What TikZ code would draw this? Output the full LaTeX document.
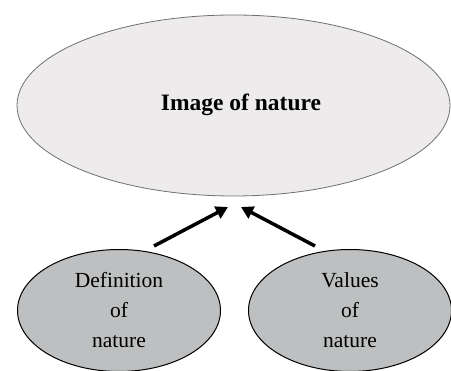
\documentclass[tikz,border=0pt]{standalone}
\usepackage{fontspec}
\setmainfont{Liberation Serif}
\usetikzlibrary{shapes.geometric,arrows.meta}
\definecolor{bigfill}{HTML}{EDEBEB}
\definecolor{bigline}{HTML}{707070}
\definecolor{smallfill}{HTML}{BDBFC0}
\tikzset{
  bigell/.style={ellipse, draw=bigline, line width=0.8pt, fill=bigfill, minimum width=433pt, minimum height=181pt, inner sep=0pt},
  smallell/.style={ellipse, draw=black, line width=1pt, fill=smallfill, minimum width=203pt, minimum height=122pt, inner sep=0pt, align=center, font=\fontsize{21.5}{30}\selectfont},
  arr/.style={line width=3.5pt, -{Triangle[length=12pt,width=13pt]}}
}
\begin{document}
\begin{tikzpicture}[x=1pt,y=-1pt]
\useasboundingbox (0,0) rectangle (451,371);
\node[bigell] (img) at (233.5,105.5) {};
\node[font=\fontsize{23.5}{28}\selectfont\bfseries] (imgt) at (241,105) {Image of nature};
\node[smallell] (def) at (119,310.5) {Definition\\of\\nature};
\node[smallell] (val) at (350,310.5) {Values\\of\\nature};
\coordinate (a1) at (154,246);
\coordinate (a2) at (228,207);
\coordinate (b1) at (315,246);
\coordinate (b2) at (241,207);
\draw[arr] (a1) -- (a2);
\draw[arr] (b1) -- (b2);
\end{tikzpicture}
\end{document}
